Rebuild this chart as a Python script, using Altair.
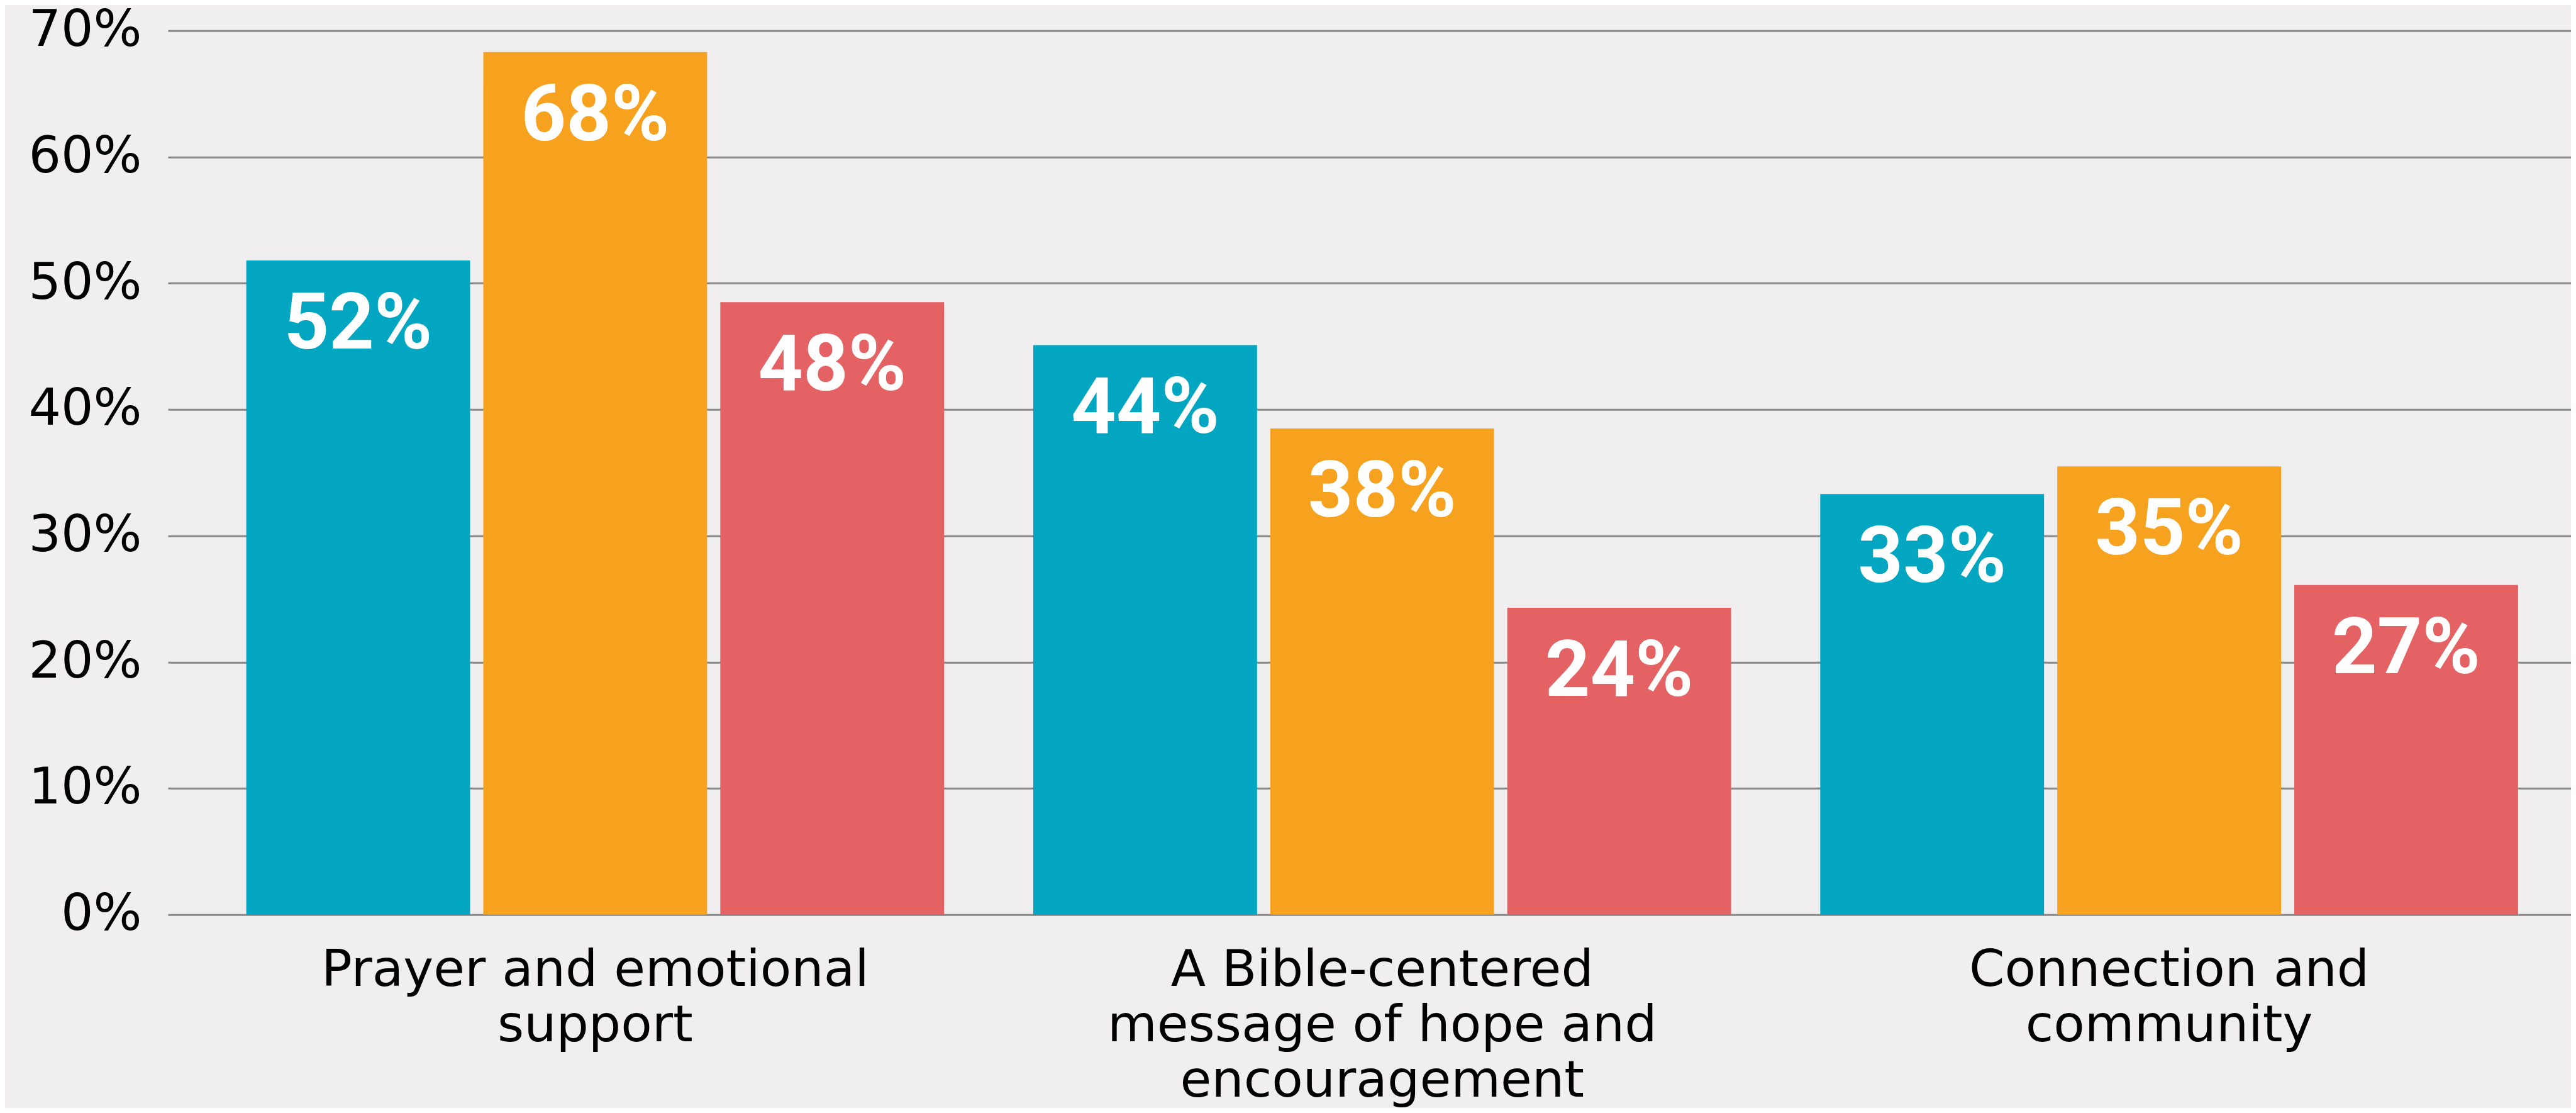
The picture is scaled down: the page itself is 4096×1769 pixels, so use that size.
import altair as alt
import pandas as pd

# Categories (line breaks as in the original labels)
categories = [
    "Prayer and emotional\nsupport",
    "A Bible-centered\nmessage of hope and\nencouragement",
    "Connection and\ncommunity",
]
series = ["Series 1", "Series 2", "Series 3"]
colors = ["#02A6C1", "#F7A21F", "#E46263"]

# Bar heights (percent), one list per series
series1_values = [51.8, 45.1, 33.3]
series2_values = [68.3, 38.5, 35.5]
series3_values = [48.5, 24.3, 26.1]

# Printed value labels
series1_labels = ["52%", "44%", "33%"]
series2_labels = ["68%", "38%", "35%"]
series3_labels = ["48%", "24%", "27%"]

y_ticks = [0, 10, 20, 30, 40, 50, 60, 70]

rows = []
for s, vals, labs in zip(series,
                         [series1_values, series2_values, series3_values],
                         [series1_labels, series2_labels, series3_labels]):
    for c, v, l in zip(categories, vals, labs):
        rows.append({"category": c, "series": s, "value": v, "label": l})
df = pd.DataFrame(rows)

base = alt.Chart(df).encode(
    x=alt.X(
        "category:N",
        sort=categories,
        scale=alt.Scale(paddingInner=0.1133, paddingOuter=0.0834, align=0.597),
        axis=alt.Axis(
            title=None,
            labelExpr="split(datum.label, '\\n')",
            labelAngle=0,
            labelFont="DejaVu Sans",
            labelFontSize=81,
            labelColor="#000000",
            labelLineHeight=88,
            labelPadding=49,
            labelBaseline="top",
            labelLimit=0,
            labelOverlap=False,
            domain=False,
            ticks=False,
            tickSize=0,
            grid=False,
        ),
    ),
    xOffset=alt.XOffset(
        "series:N",
        sort=series,
        scale=alt.Scale(paddingInner=0.0557, paddingOuter=0),
    ),
)

bars = base.mark_bar().encode(
    y=alt.Y(
        "value:Q",
        scale=alt.Scale(domain=[0, 70], nice=False),
        axis=alt.Axis(
            title=None,
            values=y_ticks,
            labelExpr="datum.value + '%'",
            labelFont="DejaVu Sans",
            labelFontSize=81,
            labelColor="#000000",
            labelPadding=42,
            labelLimit=0,
            labelOverlap=False,
            domain=False,
            ticks=False,
            tickSize=0,
            grid=True,
            gridColor="#888888",
            gridWidth=3,
            gridOpacity=1,
        ),
    ),
    color=alt.Color(
        "series:N",
        scale=alt.Scale(domain=series, range=colors),
        legend=None,
    ),
)

text = base.mark_text(
    baseline="alphabetic",
    align="center",
    dy=140,
    font="Roboto",
    fontWeight="bold",
    fontSize=125,
    color="#FFFFFF",
).encode(
    y=alt.Y("value:Q"),
    text="label:N",
)

chart = (
    alt.layer(bars, text)
    .properties(
        width=3821,
        height=1405,
        background="#F0EEEF",
        padding={"left": 259, "top": 40.7, "right": 0, "bottom": 307},
        autosize=alt.AutoSizeParams(type="none"),
    )
    .configure_view(stroke=None)
)

chart.save("out.html", embed_options={"renderer": "svg", "actions": False})
